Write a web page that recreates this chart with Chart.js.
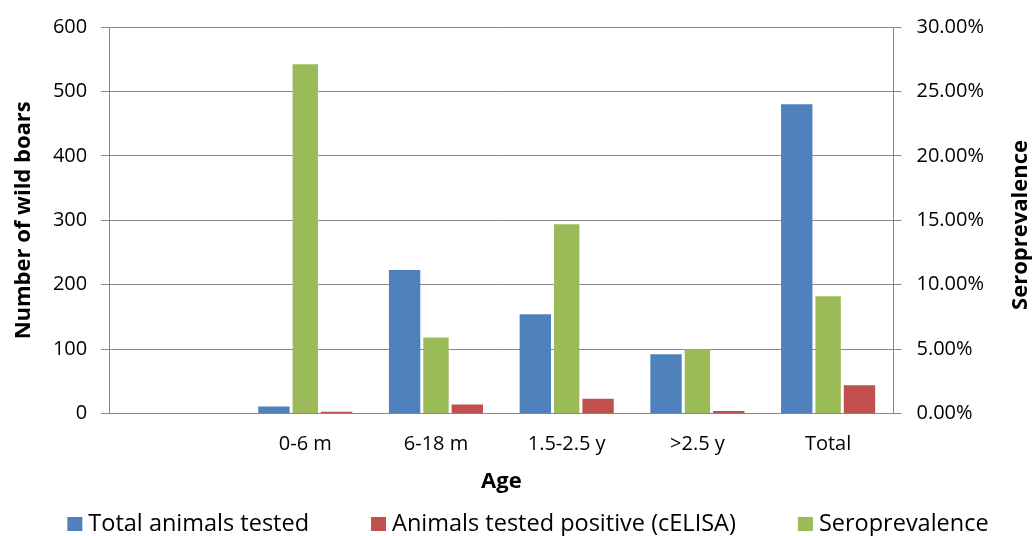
<!DOCTYPE html>
<html>
<head>
<meta charset="utf-8">
<script src="https://cdn.jsdelivr.net/npm/chart.js@4.4.1/dist/chart.umd.min.js"></script>
<style>
  html, body { margin: 0; padding: 0; background: #fff; }
</style>
</head>
<body>
<canvas id="boarChart" width="1032" height="536"></canvas>
<script>
// values
const ageGroups = ['', '0-6 m', '6-18 m', '1.5-2.5 y', '>2.5 y', 'Total'];
const totalTested = [null, 11, 223, 154, 92, 480];
const testedPositive = [null, 3, 14, 23, 4, 44];
const seroprevalence = [null, 27.1, 5.9, 14.7, 5.0, 9.1];
const countTicks = [0, 100, 200, 300, 400, 500, 600];
const percentTicks = [0, 5, 10, 15, 20, 25, 30];

const axisGrey = '#888888';
Chart.defaults.font.family = "'Open Sans', sans-serif";
Chart.defaults.color = '#000';

// legend + right axis title (it reads bottom to top, chart.js would turn it the other way)
const extras = {
  id: 'extras',
  afterDraw(chart) {
    const ctx = chart.ctx;
    const items = chart.data.datasets;
    ctx.save();
    ctx.font = "23.5px 'Open Sans'";
    ctx.textBaseline = 'middle';
    const box = 15, gap = 6, space = 62;
    const widths = items.map(d => ctx.measureText(d.label).width);
    const total = widths.reduce((a, w) => a + box + gap + w, 0) + space * (items.length - 1);
    let x = 528 - total / 2;
    const y = 524;
    items.forEach((d, i) => {
      ctx.fillStyle = d.backgroundColor;
      ctx.fillRect(x, y - 7, box, 14);
      ctx.fillStyle = '#000';
      ctx.fillText(d.label, x + box + gap, y);
      x += box + gap + widths[i] + space;
    });

    ctx.font = "bold 22px 'Open Sans'";
    ctx.textAlign = 'center';
    ctx.translate(1021, 225);
    ctx.rotate(-Math.PI / 2);
    ctx.fillText('Seroprevalence', 0, 0);
    ctx.restore();
  }
};

const boarData = {
  labels: ageGroups,
  datasets: [{
    label: 'Total animals tested',
    data: totalTested,
    backgroundColor: '#4F81BD',
    yAxisID: 'y',
    order: 0,
    barPercentage: 1
  }, {
    label: 'Animals tested positive (cELISA)',
    data: testedPositive,
    backgroundColor: '#C0504D',
    yAxisID: 'y',
    order: 2,
    barPercentage: 1
  }, {
    label: 'Seroprevalence',
    data: seroprevalence,
    backgroundColor: '#9BBB59',
    yAxisID: 'y1',
    order: 1,
    barPercentage: 0.81
  }]
};

const boarChart = new Chart(document.getElementById('boarChart'), {
  type: 'bar',
  data: boarData,
  plugins: [extras],
  options: {
    responsive: false,
    animation: false,
    devicePixelRatio: 1,
    categoryPercentage: 0.72,
    layout: { autoPadding: false, padding: { left: 0, right: 33, top: 24.5, bottom: 39 } },
    plugins: {
      legend: { display: false },
      tooltip: { enabled: false }
    },
    scales: {
      x: {
        grid: { display: false, drawTicks: false },
        border: { display: true, color: axisGrey },
        ticks: { font: { size: 20 }, padding: 19, maxRotation: 0, autoSkip: false },
        title: {
          display: true, text: 'Age',
          font: { size: 22, weight: 'bold' },
          padding: { top: -7, bottom: 2 }
        }
      },
      y: {
        position: 'left',
        min: countTicks[0],
        max: countTicks[countTicks.length - 1],
        afterBuildTicks: ax => { ax.ticks = countTicks.map(v => ({ value: v })); },
        grid: { color: axisGrey, tickLength: 8 },
        border: { display: true, color: axisGrey },
        ticks: { font: { size: 20 }, padding: 14 },
        title: {
          display: true, text: 'Number of wild boars',
          font: { size: 22, weight: 'bold' },
          padding: { top: 11, bottom: 1.5 }
        }
      },
      y1: {
        position: 'right',
        min: percentTicks[0],
        max: percentTicks[percentTicks.length - 1],
        afterBuildTicks: ax => { ax.ticks = percentTicks.map(v => ({ value: v })); },
        grid: { drawOnChartArea: false, color: axisGrey, tickLength: 8 },
        border: { display: true, color: axisGrey },
        ticks: { font: { size: 20 }, padding: 15, callback: v => v.toFixed(2) + '%' }
      }
    }
  }
});
</script>
</body>
</html>
